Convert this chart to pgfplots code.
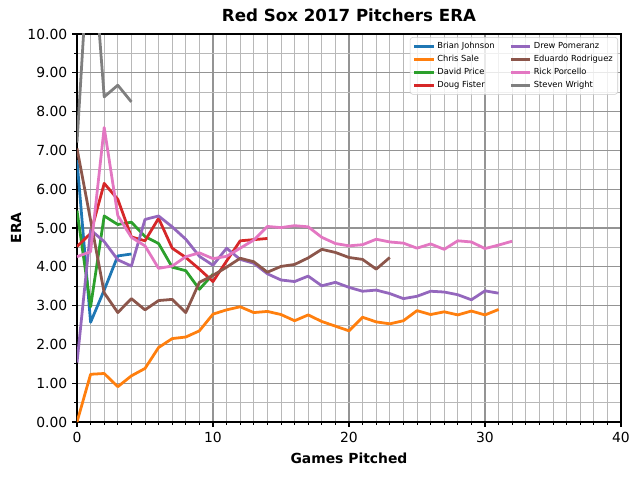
\documentclass[border=0pt]{standalone}
\usepackage{pgfplots}
\pgfplotsset{compat=1.18}
\usepackage{fontspec}
\setmainfont{DejaVu Sans}
\definecolor{tabblue}{HTML}{1F77B4}
\definecolor{taborange}{HTML}{FF7F0E}
\definecolor{tabgreen}{HTML}{2CA02C}
\definecolor{tabred}{HTML}{D62728}
\definecolor{tabpurple}{HTML}{9467BD}
\definecolor{tabbrown}{HTML}{8C564B}
\definecolor{tabpink}{HTML}{E377C2}
\definecolor{tabgray}{HTML}{7F7F7F}
\begin{document}
\begin{tikzpicture}
\useasboundingbox (-55.44pt,-41.76pt) rectangle (405.36pt,303.84pt);
\begin{axis}[
  scale only axis,
  width=391.68pt, height=279.36pt,
  xmin=0, xmax=40, ymin=0, ymax=10,
  xtick={0,10,20,30,40},
  ytick={0,1,2,3,4,5,6,7,8,9,10},
  minor x tick num=9,
  minor y tick num=1,
  grid=both,
  major grid style={color=black!42, line width=0.9pt},
  minor grid style={color=black!28, line width=0.6pt},
  tick align=outside,
  xtick pos=bottom, ytick pos=left,
  major tick length=3.5pt, minor tick length=2pt,
  major tick style={black, line width=0.8pt},
  minor tick style={black, line width=0.6pt},
  axis line style={black, line width=0.8pt},
  /pgf/number format/assume math mode=true,
  yticklabel style={/pgf/number format/.cd, fixed, fixed zerofill, precision=2},
  ticklabel style={font=\fontsize{10}{12}\selectfont},
  title={Red Sox 2017 Pitchers ERA},
  title style={font=\bfseries\fontsize{12}{14}\selectfont, at={(axis description cs:0.5,1.031)}, anchor=base, yshift=-6pt},
  xlabel={Games Pitched},
  ylabel={ERA},
  xlabel style={font=\bfseries\fontsize{10}{12}\selectfont, at={(axis description cs:0.5,-0.1057)}, anchor=base},
  ylabel style={font=\bfseries\fontsize{10}{12}\selectfont, at={(axis description cs:-0.1029,0.5)}, anchor=base},
  legend columns=2,
  legend cell align=left,
  legend style={at={(axis description cs:0.9945,0.992)}, anchor=north east,
    draw=black!20, rounded corners=2pt, fill=white, fill opacity=0.8, text opacity=1,
    font=\fontsize{6}{7}\selectfont, inner sep=2pt,
    nodes={inner sep=1.6pt},
    /tikz/every even column/.append style={column sep=9pt}},
  legend image code/.code={\draw[#1, line width=2pt] (0pt,0pt) -- (14pt,0pt);},
  every axis plot/.append style={line width=2pt, line join=round, no marks},
]
% Brian Johnson
\addplot[tabblue, forget plot] coordinates {(0,6.75) (1,2.57) (2,3.40) (3,4.28) (4,4.33)};
% Chris Sale
\addplot[taborange, forget plot] coordinates {(0,0.00) (1,1.23) (2,1.25) (3,0.91) (4,1.19) (5,1.38) (6,1.92) (7,2.15) (8,2.19) (9,2.35) (10,2.78) (11,2.89) (12,2.97) (13,2.82) (14,2.85) (15,2.77) (16,2.61) (17,2.76) (18,2.59) (19,2.47) (20,2.35) (21,2.70) (22,2.58) (23,2.53) (24,2.61) (25,2.87) (26,2.77) (27,2.84) (28,2.76) (29,2.86) (30,2.76) (31,2.90)};
% David Price
\addplot[tabgreen, forget plot] coordinates {(0,5.45) (1,2.97) (2,5.31) (3,5.09) (4,5.15) (5,4.78) (6,4.60) (7,3.99) (8,3.90) (9,3.42) (10,3.81)};
% Doug Fister
\addplot[tabred, forget plot] coordinates {(0,4.52) (1,4.86) (2,6.15) (3,5.74) (4,4.77) (5,4.67) (6,5.25) (7,4.48) (8,4.24) (9,3.94) (10,3.62) (11,4.15) (12,4.67) (13,4.70) (14,4.73)};
% Drew Pomeranz
\addplot[tabpurple, forget plot] coordinates {(0,1.53) (1,4.95) (2,4.65) (3,4.18) (4,4.02) (5,5.22) (6,5.31) (7,5.03) (8,4.71) (9,4.27) (10,4.04) (11,4.48) (12,4.19) (13,4.09) (14,3.82) (15,3.66) (16,3.62) (17,3.76) (18,3.51) (19,3.60) (20,3.47) (21,3.37) (22,3.40) (23,3.31) (24,3.18) (25,3.24) (26,3.37) (27,3.35) (28,3.28) (29,3.15) (30,3.38) (31,3.32)};
% Eduardo Rodriguez
\addplot[tabbrown, forget plot] coordinates {(0,7.05) (1,5.20) (2,3.33) (3,2.82) (4,3.18) (5,2.89) (6,3.13) (7,3.16) (8,2.82) (9,3.60) (10,3.78) (11,3.99) (12,4.22) (13,4.13) (14,3.86) (15,4.01) (16,4.06) (17,4.23) (18,4.45) (19,4.37) (20,4.24) (21,4.19) (22,3.94) (23,4.24)};
% Rick Porcello
\addplot[tabpink, forget plot] coordinates {(0,4.26) (1,4.39) (2,7.59) (3,5.32) (4,4.76) (5,4.54) (6,3.96) (7,4.02) (8,4.26) (9,4.36) (10,4.21) (11,4.27) (12,4.48) (13,4.69) (14,5.04) (15,5.01) (16,5.06) (17,5.03) (18,4.76) (19,4.60) (20,4.54) (21,4.57) (22,4.71) (23,4.64) (24,4.61) (25,4.48) (26,4.59) (27,4.45) (28,4.67) (29,4.64) (30,4.47) (31,4.56) (32,4.66)};
% Steven Wright
\addplot[tabgray, forget plot] coordinates {(0,7.20) (1,13.00) (2,8.38) (3,8.68) (4,8.25)};
\addlegendimage{tabblue}\addlegendentry{Brian Johnson}
\addlegendimage{tabpurple}\addlegendentry{Drew Pomeranz}
\addlegendimage{taborange}\addlegendentry{Chris Sale}
\addlegendimage{tabbrown}\addlegendentry{Eduardo Rodriguez}
\addlegendimage{tabgreen}\addlegendentry{David Price}
\addlegendimage{tabpink}\addlegendentry{Rick Porcello}
\addlegendimage{tabred}\addlegendentry{Doug Fister}
\addlegendimage{tabgray}\addlegendentry{Steven Wright}
\end{axis}
\end{tikzpicture}
\end{document}
